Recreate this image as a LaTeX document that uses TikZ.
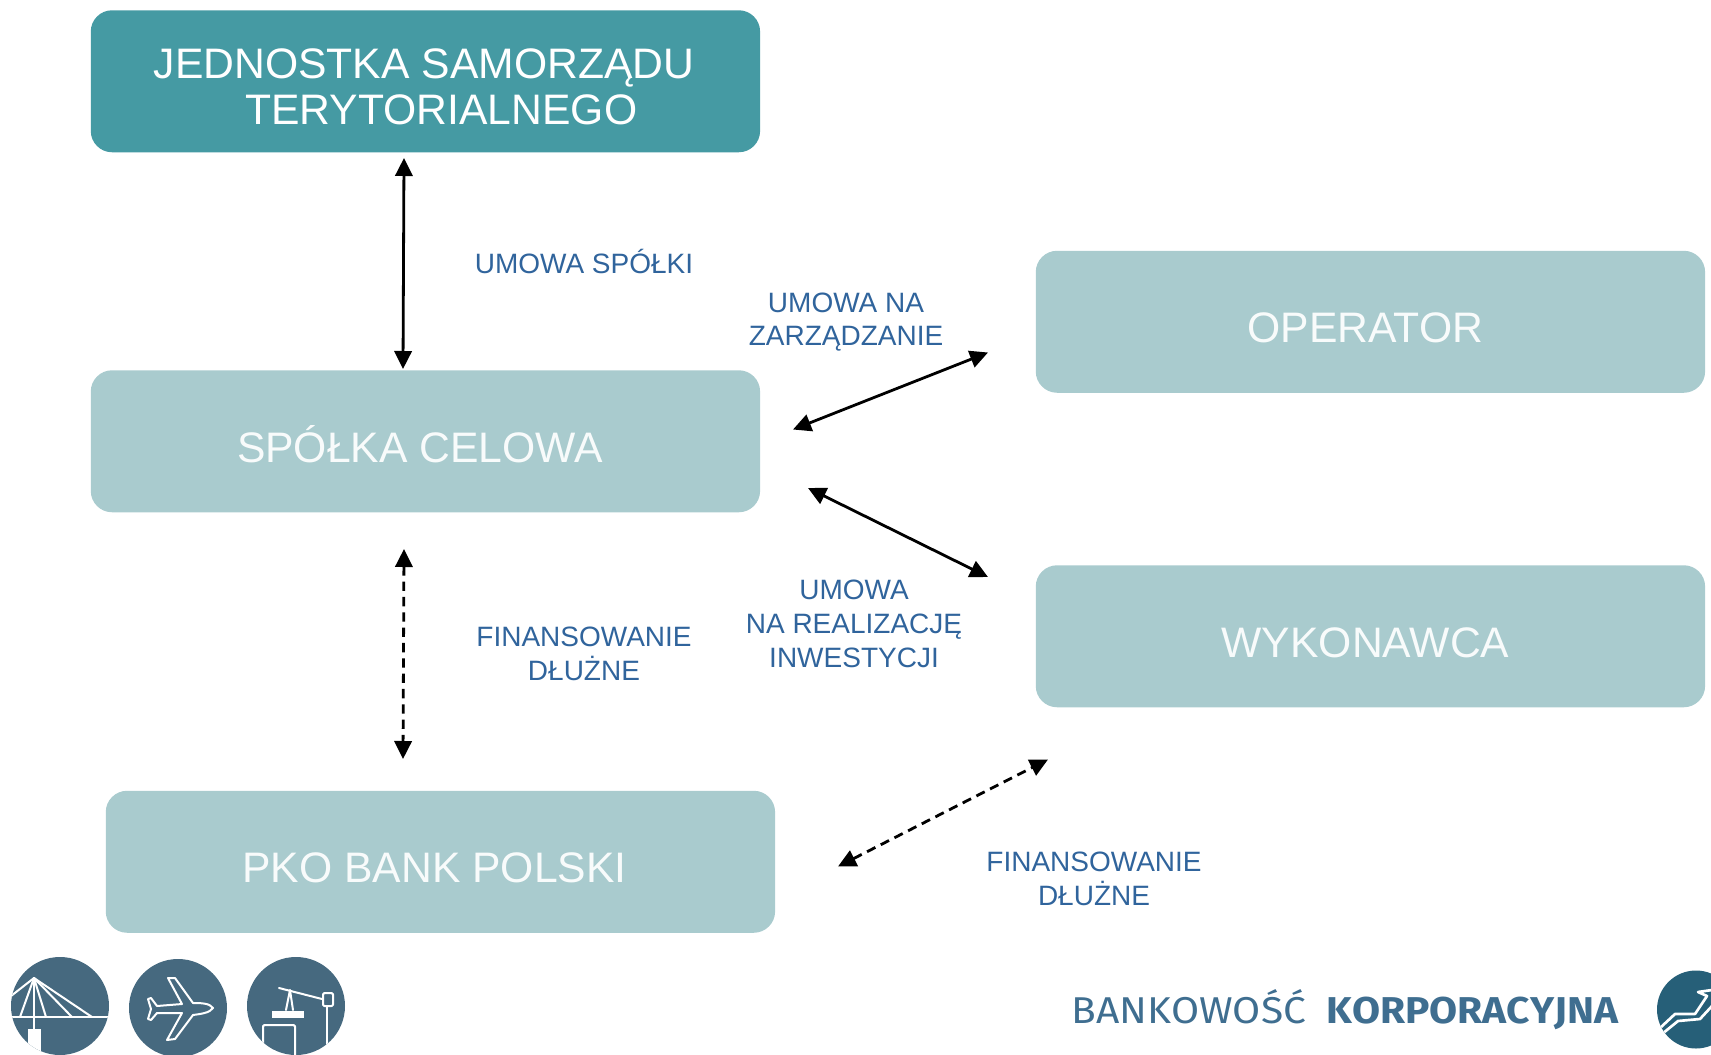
\documentclass[tikz,border=0pt]{standalone}
\usepackage{fontspec}
\setmainfont{Liberation Sans}
\newfontfamily\logofont[Kerning=Off]{Fira Sans}
\usetikzlibrary{arrows.meta}
\definecolor{tealdark}{HTML}{459AA3}
\definecolor{tealpale}{HTML}{A9CBCE}
\definecolor{labelblue}{HTML}{30649C}
\definecolor{iconblue}{HTML}{46697F}
\definecolor{logoblue}{HTML}{3F6E90}
\definecolor{circblue}{HTML}{265F78}
\tikzset{
  x=0.75pt,y=-0.75pt,
  boxbase/.style={rounded corners=16pt,inner sep=0pt,minimum width=502pt,minimum height=106.5pt,anchor=north west},
  darkbox/.style={boxbase,fill=tealdark},
  palebox/.style={boxbase,fill=tealpale},
  boxtext/.style={text=white,font=\fontsize{32pt}{34.4pt}\selectfont,inner sep=0pt,anchor=base},
  paletext/.style={boxtext,text=white!92!tealpale},
  lab/.style={text=labelblue,font=\fontsize{21pt}{25.3pt}\selectfont,align=center,inner sep=0pt},
  link/.style={{Triangle[length=13.5pt,width=13pt]}-{Triangle[length=13.5pt,width=13pt]},line width=2.1pt,black},
  dashlink/.style={link,dash pattern=on 7pt off 4.5pt},
  icon/.style={white,line width=1.5pt,line cap=round,line join=round},
  logotext/.style={text=logoblue,inner sep=0pt,anchor=base west}
}
\begin{document}
\begin{tikzpicture}
\useasboundingbox (0,0) rectangle (1711,1054);
\clip (0,0) rectangle (1711,1054);
% boxes
\node[darkbox] (jst) at (90.5,10) {};
\node[palebox] (spolka) at (90.5,370) {};
\node[palebox] (pko) at (105.5,790.5) {};
\node[palebox] (operator) at (1035.5,250.5) {};
\node[palebox] (wyk) at (1035.5,565) {};
% box texts
\node[boxtext,anchor=base west] (t1) at (153.5,78) {JEDNOSTKA SAMORZĄDU};
\node[boxtext,anchor=base west] (t1b) at (245,124) {TERYTORIALNEGO};
\node[paletext] (t2) at (420,462) {SPÓŁKA CELOWA};
\node[paletext] (t3) at (434.5,882) {PKO BANK POLSKI};
\node[paletext] (t4) at (1365.5,342) {OPERATOR};
\node[paletext] (t5) at (1365.5,657) {WYKONAWCA};
% labels
\node[lab] (l1) at (584,261) {UMOWA SPÓŁKI};
\node[lab] (l2) at (846,322) {UMOWA NA\\ZARZĄDZANIE};
\node[lab] (l3) at (854,624) {UMOWA\\NA REALIZACJĘ\\INWESTYCJI};
\node[lab] (l4) at (584,653.5) {FINANSOWANIE\\DŁUŻNE};
\node[lab] (l5) at (1094,878.5) {FINANSOWANIE\\DŁUŻNE};
% connector ends
\coordinate (a1) at (404,158); \coordinate (a2) at (403,369);
\coordinate (b1) at (793,429.5); \coordinate (b2) at (988,352.5);
\coordinate (c1) at (808,488); \coordinate (c2) at (988,577);
\coordinate (d1) at (404,549); \coordinate (d2) at (403,759);
\coordinate (e1) at (838,866.5); \coordinate (e2) at (1048,759.5);
\draw[link] (a1) -- (a2);
\draw[link] (b1) -- (b2);
\draw[link] (c1) -- (c2);
\draw[dashlink] (d1) -- (d2);
\draw[dashlink] (e1) -- (e2);
% bridge icon
\fill[iconblue] (60,1006) circle (49);
\begin{scope}
\clip (60,1006) circle (49);
\draw[icon] (11,1017) -- (109,1017);
\draw[icon] (34,978) -- (11,996);
\draw[icon] (34,978) -- (20,1017);
\draw[icon] (34,978) -- (34,1030);
\draw[icon] (34,978) -- (46,1017);
\draw[icon] (34,978) -- (72,1017);
\draw[icon] (34,978) -- (92,1017);
\fill[white] (28,1029) rectangle (41,1054);
\end{scope}
% plane icon
\fill[iconblue] (178,1008) circle (49);
\draw[icon] (213,1008) .. controls (210,1003) and (200,1003) .. (193,1003)
 -- (175,978) -- (168,978) -- (182,1004) -- (157,1006) -- (151,998) -- (148,999)
 -- (151,1009) -- (148,1019) -- (151,1020) -- (157,1013) -- (182,1013) -- (167,1040) -- (175,1039) -- (193,1015)
 .. controls (200,1014) and (210,1013) .. (213,1008) -- cycle;
% crane icon
\fill[iconblue] (296,1006) circle (49);
\begin{scope}
\clip (296,1006) circle (49);
\draw[icon] (279,988) -- (322,999);
\draw[icon] (286,1010) -- (290,990) -- (293,1010);
\fill[white] (272,1011) rectangle (304,1018);
\draw[icon,rounded corners=1pt] (263,1056) -- (263,1025) -- (295,1025) -- (295,1056);
\draw[icon,rounded corners=1pt] (323,993) rectangle (333,1006);
\draw[icon] (327,1006) -- (327,1056);
\end{scope}
% logo
\node[logotext] (bk) at (1071,1023) {\scalebox{1.09}[1]{\logofont\fontsize{28pt}{28pt}\selectfont BANKOWOŚĆ}};
\node[logotext] (kr) at (1326,1023) {\scalebox{1.09}[1]{\logofont\bfseries\fontsize{28pt}{28pt}\selectfont KORPORACYJNA}};
\fill[circblue] (1696,1009.5) circle (39);
\begin{scope}
\clip (1696,1009.5) circle (39);
\draw[white,line width=2pt,line join=round] (1660,1028) -- (1675,1014) -- (1695,1014) -- (1707,996) -- (1698,992) -- (1712,990);
\draw[white,line width=2pt,line join=round] (1662,1034) -- (1678,1021) -- (1700,1019) -- (1712,1006);
\end{scope}
\end{tikzpicture}
\end{document}
